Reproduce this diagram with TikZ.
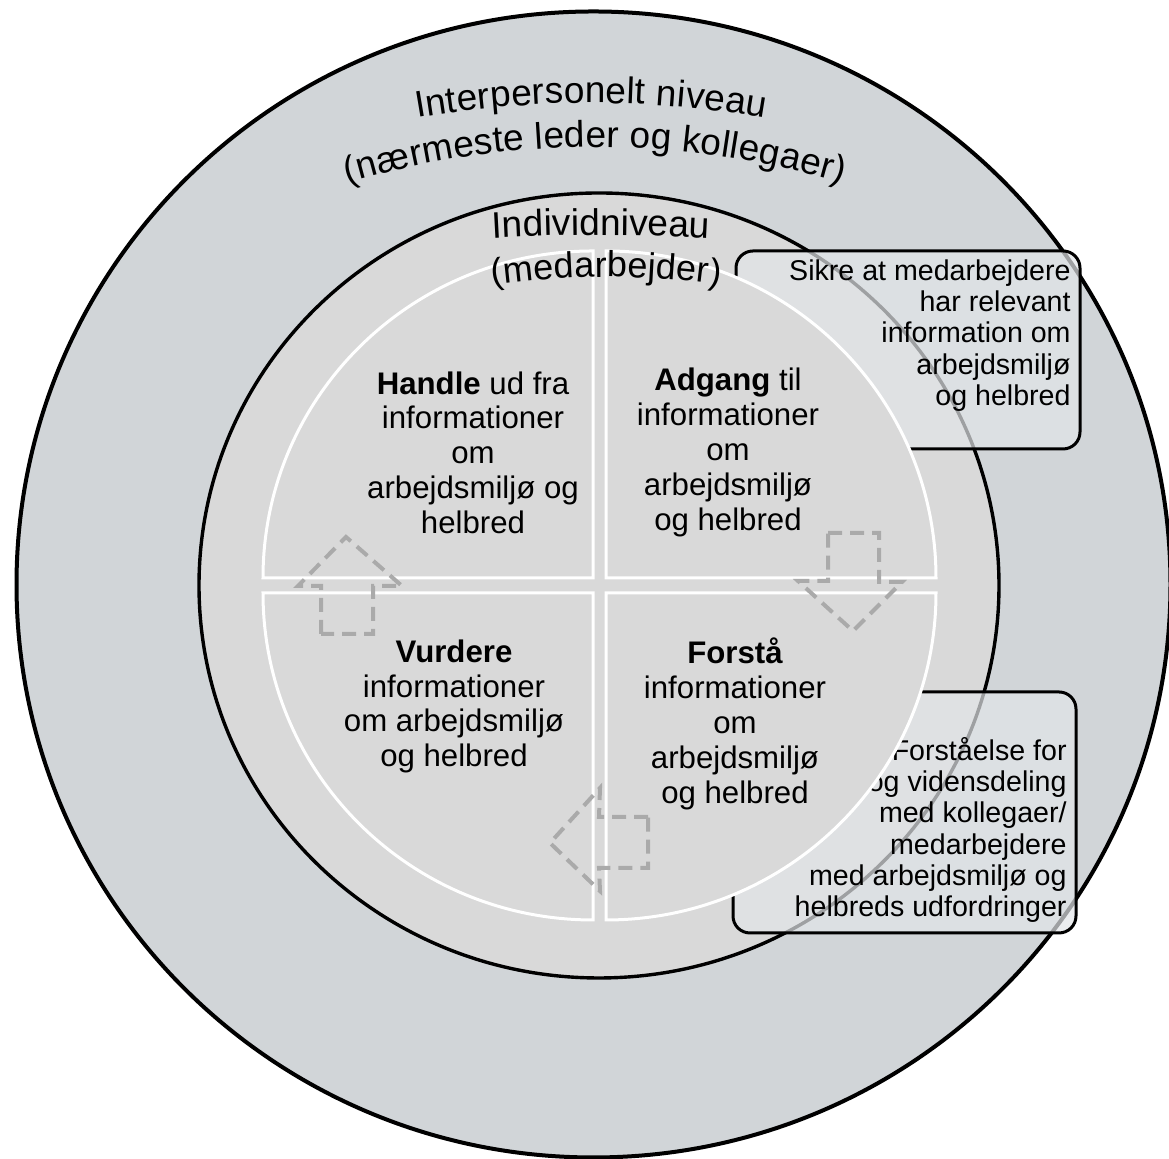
\documentclass[tikz,border=0pt]{standalone}
\usepackage{fontspec}
\setmainfont{Liberation Sans}
\usetikzlibrary{decorations.text}

\definecolor{bandgray}{RGB}{209,213,216}
\definecolor{coregray}{RGB}{217,217,217}
\definecolor{notefill}{RGB}{226,229,232}
\definecolor{arrowgray}{RGB}{170,170,170}

\newcommand{\titlefont}{\fontsize{18.5}{22}\selectfont}
\newcommand{\subtitlefont}{\fontsize{18}{22}\selectfont}

\tikzset{
  quarter/.style={fill=coregray, draw=white, line width=1.5pt},
  cyclearrow/.style={draw=arrowgray, line width=2pt, dash pattern=on 7pt off 4pt},
  notebox/.style={draw=black, line width=1.5pt, fill=notefill, fill opacity=0.7, rounded corners=8.5pt},
  notetext/.style={align=right, font=\fontsize{14.3}{15.6}\selectfont, inner sep=0pt},
  quadtext/.style={align=center, font=\fontsize{15.6}{17.4}\selectfont, inner sep=0pt},
}

\begin{document}
\begin{tikzpicture}[x=0.5pt,y=0.5pt]
			\useasboundingbox (0,0) rectangle (1169,1159);
			% Define the centres of the rings and of the title arcs
			\coordinate (outerc) at (593.5,574.5);
			\coordinate (innerc) at (599,573.5);
			\coordinate (arcA) at (591,39);
			\coordinate (arcB) at (595,147);
			\coordinate (arcC) at (601,-1039);
			\coordinate (arcD) at (606,66);

			% Draw the rings
			\draw[fill=bandgray, line width=2pt] (outerc) ellipse [x radius=288.5pt, y radius=286.5pt];
			\draw[fill=coregray, line width=1.7pt] (innerc) ellipse [x radius=200pt, y radius=196.25pt];

			% Draw the note boxes
			\draw[notebox] (736,710) rectangle (1080,908);
			\draw[notebox] (733,226) rectangle (1076,467);
			\node[notetext, anchor=east] (sikre) at (1071,823.5)
			  {Sikre at medarbejdere\\har relevant\\information om\\arbejdsmiljø\\og helbred};
			\node[notetext, anchor=east] (forstaaelse) at (1067,329)
			  {Forståelse for\\og vidensdeling\\med kollegaer/\\medarbejdere\\med arbejdsmiljø og\\helbreds udfordringer};

			% Draw the quarters
			\foreach \cx/\cy/\sa/\ea in {593/581/180/90, 606/581/90/0, 606/566/0/-90, 593/566/270/180}
			\draw[quarter] (\cx,\cy) -- ([shift={(\sa:165pt and 163.5pt)}]\cx,\cy)
			  arc[start angle=\sa, end angle=\ea, x radius=165pt, y radius=163.5pt] -- cycle;

			\node[quadtext] (handle) at (473,706.5)
			  {\textbf{Handle} ud fra\\informationer\\om\\arbejdsmiljø og\\helbred};
			\node[quadtext] (adgang) at (728,706.5)
			  {\textbf{Adgang} til\\informationer\\om\\arbejdsmiljø\\og helbred};
			\node[quadtext] (vurdere) at (454,452.5)
			  {\textbf{Vurdere}\\informationer\\om arbejdsmiljø\\og helbred};
			\node[quadtext] (forstaa) at (735,435)
			  {\textbf{Forstå}\\informationer\\om\\arbejdsmiljø\\og helbred};

			% Draw the dashed cycle arrows
			\draw[cyclearrow] (321,525) -- (321,573) -- (298,573) -- (346,622) -- (402,573) -- (373,573) -- (373,525) -- cycle;
			\draw[cyclearrow] (828,626) -- (879,626) -- (879,577) -- (902,577) -- (853,528) -- (798,578) -- (828,578) -- cycle;
			\draw[cyclearrow] (648,342) -- (599,342) -- (600,371) -- (550,316) -- (600,268) -- (599,291) -- (648,291) -- cycle;

			% Curved level titles
			\path[decorate, decoration={text along path, text align={fit to path}, text={|\titlefont|Interpersonelt niveau}}]
			  ([shift={(99.85:508.5pt)}]arcA) arc[start angle=99.85, end angle=80.15, radius=508.5pt];
			\path[decorate, decoration={text along path, text align={fit to path}, text={|\titlefont|(nærmeste leder og kollegaer)}}]
			  ([shift={(106.6:432.5pt)}]arcB) arc[start angle=106.6, end angle=73.4, radius=432.5pt];
			\path[decorate, decoration={text along path, text align={fit to path}, text={|\titlefont|Individniveau}}]
			  ([shift={(93.17:981.5pt)}]arcC) arc[start angle=93.17, end angle=86.83, radius=981.5pt];
			\path[decorate, decoration={text along path, text align={fit to path}, text={|\subtitlefont|(medarbejder)}}]
			  ([shift={(98.03:408pt)}]arcD) arc[start angle=98.03, end angle=81.97, radius=408pt];
            \end{tikzpicture}
\end{document}
